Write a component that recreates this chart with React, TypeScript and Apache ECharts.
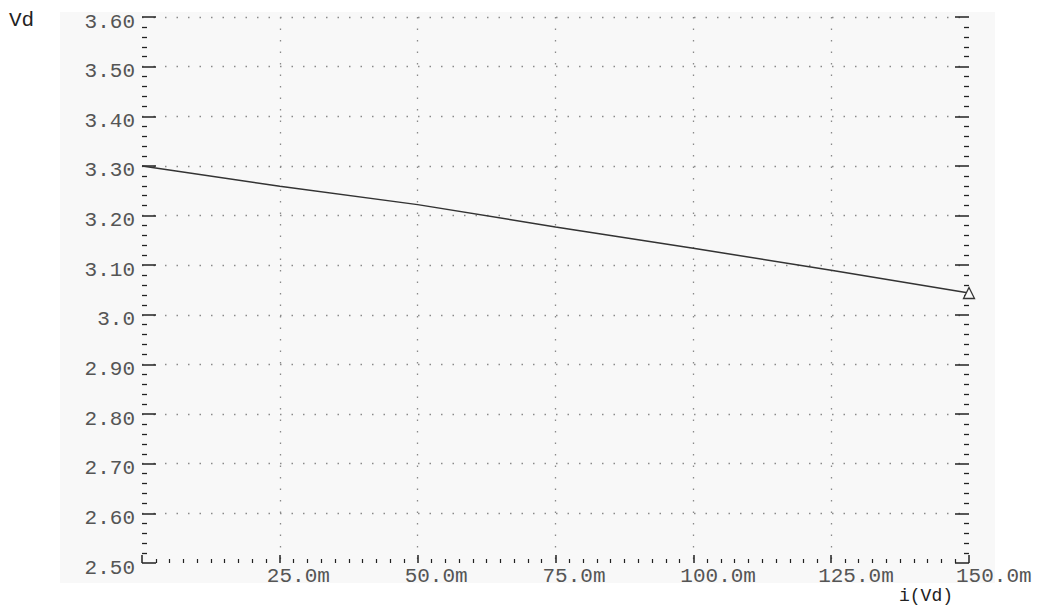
import React, { useEffect, useRef } from "react";
import * as echarts from "echarts";

// current i(Vd) in amperes
const currents = [0, 0.025, 0.05, 0.075, 0.1, 0.125, 0.15];
// Vd in volts
const voltages = [3.3, 3.259, 3.222, 3.177, 3.134, 3.09, 3.044];

const yMin = 2.5;
const yMax = 3.6;
const yStep = 0.1;
const xMin = 0;
const xMax = 0.15;
const xStep = 0.025;

const yTitle = "Vd";
const xTitle = "i(Vd)";

const MONO = "'Liberation Mono', 'DejaVu Sans Mono', monospace";

export default function App() {
  const ref = useRef<HTMLDivElement>(null);
  useEffect(() => {
    if (!ref.current) return;
    const chart = echarts.init(ref.current, null, { renderer: "svg" });
    const data = currents.map((c, i) => [c, voltages[i]]);
    const tickColor = "#222";
    const gridLine = {
      show: true,
      lineStyle: { color: "#8a8a8a", width: 1.3, type: [1.5, 10] as any },
    };
    chart.setOption({
      animation: false,
      backgroundColor: "#ffffff",
      graphic: [
        {
          type: "rect",
          left: 60,
          top: 12,
          shape: { width: 935, height: 571 },
          style: { fill: "#f8f8f8" },
          z: -10,
          silent: true,
        },
        {
          type: "text",
          left: 9,
          top: 10,
          style: { text: yTitle, font: `21px ${MONO}`, fill: "#222" },
        },
        {
          type: "text",
          left: 899,
          top: 587,
          style: { text: xTitle, font: `18px ${MONO}`, fill: "#222" },
        },
      ],
      grid: { left: 142, right: 69, top: 17, bottom: 43, containLabel: false },
      xAxis: {
        type: "value",
        min: xMin,
        max: xMax,
        interval: xStep,
        axisLine: { show: false },
        axisTick: { show: true, inside: true, length: 8, lineStyle: { color: tickColor, width: 1.5 } },
        minorTick: { show: true, splitNumber: 10, length: 4, lineStyle: { color: tickColor, width: 1.2 } },
        splitLine: { ...gridLine, showMinLine: false, showMaxLine: false },
        axisLabel: {
          formatter: (v: number) => (v === 0 ? "" : (v * 1000).toFixed(1) + "m"),
          align: "left",
          padding: [0, 0, 0, -13],
          margin: 3,
          fontFamily: MONO,
          fontSize: 21,
          color: "#555",
          showMaxLabel: true,
        },
      },
      yAxis: [
        {
          type: "value",
          min: yMin,
          max: yMax,
          interval: yStep,
          axisLine: { show: false },
          axisTick: { show: true, inside: true, length: 14, lineStyle: { color: tickColor, width: 1.5 } },
          minorTick: { show: true, splitNumber: 5, length: 5, lineStyle: { color: tickColor, width: 1.3 } },
          splitLine: { ...gridLine, showMinLine: false, showMaxLine: true },
          axisLabel: {
            formatter: (v: number) => (Math.abs(v - 3) < 1e-9 ? "3.0" : v.toFixed(2)),
            margin: 7,
            verticalAlign: "top",
            lineHeight: 10,
            fontFamily: MONO,
            fontSize: 21,
            color: "#555",
          },
        },
        {
          type: "value",
          position: "right",
          min: yMin,
          max: yMax,
          interval: yStep,
          axisLine: { show: false },
          axisTick: { show: true, inside: true, length: 14, lineStyle: { color: tickColor, width: 1.5 } },
          minorTick: { show: true, splitNumber: 5, length: 5, lineStyle: { color: tickColor, width: 1.3 } },
          splitLine: { show: false },
          axisLabel: { show: false },
        },
      ],
      series: [
        {
          type: "line",
          data,
          yAxisIndex: 0,
          lineStyle: { color: "#333", width: 1.5 },
          showSymbol: true,
          symbol: (_v: any, p: any) => (p.dataIndex === data.length - 1 ? "triangle" : "none"),
          symbolSize: 11,
          itemStyle: { color: "#f8f8f8", borderColor: "#333", borderWidth: 1.3 },
        },
      ],
    });
    return () => chart.dispose();
  }, []);
  return (
    <div
      ref={ref}
      style={{ position: "fixed", left: 0, top: 0, width: 1038, height: 606 }}
    />
  );
}
